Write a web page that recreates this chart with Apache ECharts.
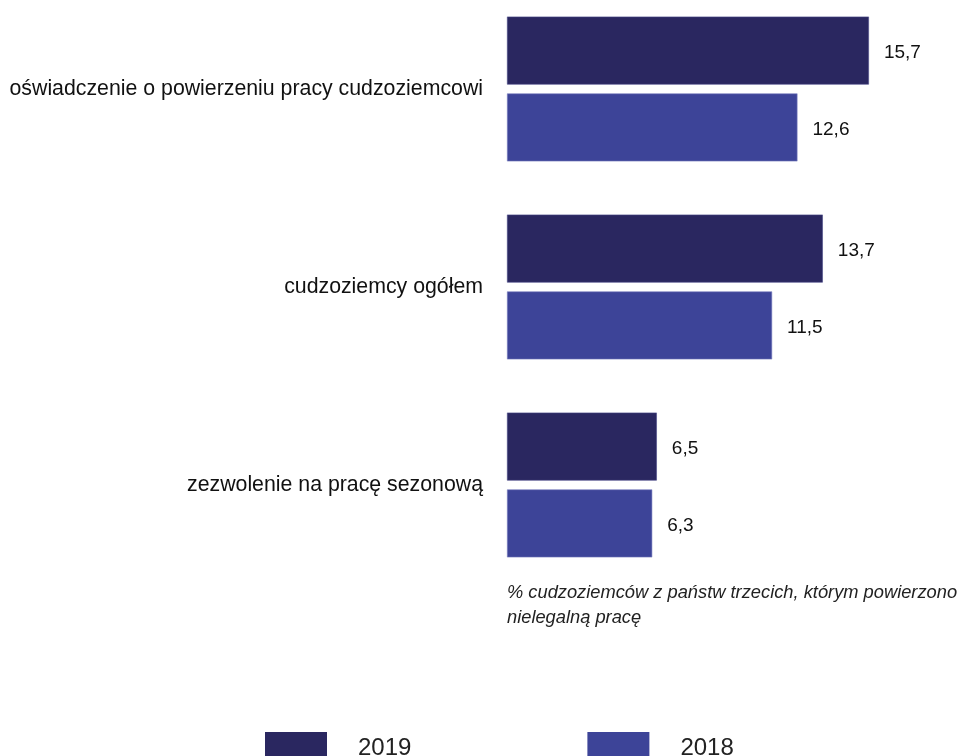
<!DOCTYPE html>
<html><head><meta charset="utf-8">
<script src="https://cdn.jsdelivr.net/npm/echarts@6/dist/echarts.min.js"></script>
<style>html,body{margin:0;padding:0;background:#fff}#c{width:964px;height:756px}</style>
</head><body><div id="c"></div>
<script>
const categories = ['oświadczenie o powierzeniu pracy cudzoziemcowi', 'cudzoziemcy ogółem', 'zezwolenie na pracę sezonową'];
const values2019 = [15.7, 13.7, 6.5];
const values2018 = [12.6, 11.5, 6.3];
const seriesNames = ['2019', '2018'];
const noteLines = ['% cudzoziemców z państw trzecich, którym powierzono', 'nielegalną pracę'];

const FONT = '"Liberation Sans", Arial, Helvetica, sans-serif';
const chart = echarts.init(document.getElementById('c'));
const fmt = p => String(p.value).replace('.', ',');
chart.setOption({
  animation: false,
  textStyle: { fontFamily: FONT },
  grid: { left: 507, top: -10, height: 594, width: 438, containLabel: false, outerBoundsMode: 'none' },
  xAxis: { type: 'value', min: 0, max: 19, show: false },
  yAxis: {
    type: 'category', data: categories, inverse: true,
    axisLine: { show: false }, axisTick: { show: false },
    axisLabel: { fontSize: 21.3, color: '#111', margin: 24, fontFamily: FONT }
  },
  legend: {
    left: 265, top: 732, padding: 0, itemWidth: 62, itemHeight: 32, itemGap: 176,
    icon: 'rect',
    itemStyle: { borderWidth: 0 },
    textStyle: { fontSize: 24, color: '#222', padding: [0, 0, 0, 26], fontFamily: FONT },
    data: seriesNames
  },
  series: [
    { name: seriesNames[0], type: 'bar', data: values2019, barWidth: 68, barGap: '13%',
      itemStyle: { color: '#2a2760', borderColor: '#4a4a88', borderWidth: 0.6 },
      label: { show: true, position: 'right', distance: 15, fontSize: 19, color: '#111', formatter: fmt, fontFamily: FONT, offset: [0, 2] } },
    { name: seriesNames[1], type: 'bar', data: values2018, barWidth: 68,
      itemStyle: { color: '#3d4498', borderColor: '#7a80c0', borderWidth: 0.6 },
      label: { show: true, position: 'right', distance: 15, fontSize: 19, color: '#111', formatter: fmt, fontFamily: FONT, offset: [0, 2] } }
  ],
  graphic: noteLines.map((t, i) => ({
    type: 'text', left: 507, top: 584 + i * 25,
    style: { text: t, font: 'italic 18.3px ' + FONT, fill: '#222' }
  }))
});
</script></body></html>
